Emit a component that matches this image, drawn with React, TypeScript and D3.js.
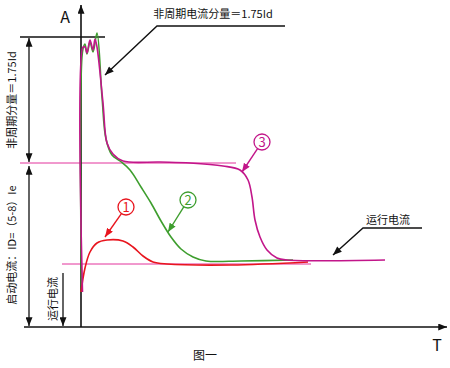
import * as d3 from 'd3';

// time axis and current axis are in arbitrary units
const levelRun = 63; // 运行电流
const levelStart = 164; // 启动电流
const levelPeak = 290; // 非周期分量 top

const curve1T = [0, 4, 9, 16, 26, 42, 52, 62, 72, 86, 150, 227];
const curve1I = [35, 59, 75, 84, 87, 86, 80, 71, 65, 63, 62, 65];

const curve2T = [0.5, 1.5, 4, 6, 9, 12, 16, 21, 25, 31, 39, 49, 60, 70, 80, 90, 100, 112, 125, 160, 212];
const curve2I = [35, 275, 283, 273, 285, 275, 294, 230, 188, 172, 166, 157, 140, 124, 106, 90, 78, 70, 66, 66, 67];

const curve3T = [1.5, 2, 4, 6, 9, 12, 14, 16, 22, 26, 32, 42, 79, 109, 142, 159, 167, 171, 174, 179, 186, 196, 206, 304];
const curve3I = [35, 280, 280, 274, 287, 277, 288, 280, 224, 184, 173, 166, 165, 164, 161, 157, 147, 130, 107, 90, 77, 69, 67, 67];

const labels = ['1', '2', '3'];
const colors = ['#e8151e', '#3e9e2e', '#c2168a'];

const font = '"Noto Sans CJK SC", "Noto Sans", sans-serif';

const x = d3.scaleLinear().domain([0, 366]).range([81, 447]);
const y = d3.scaleLinear().domain([0, 322]).range([327, 5]);

const line = d3
  .line<[number, number]>()
  .curve(d3.curveCatmullRom.alpha(0.5))
  .x((d) => x(d[0]))
  .y((d) => y(d[1]));

const zip = (t: number[], v: number[]) => t.map((d, i) => [d, v[i]] as [number, number]);

export default function App() {
  const curves = [zip(curve1T, curve1I), zip(curve2T, curve2I), zip(curve3T, curve3I)];
  // circle label centres and arrow tips (data units)
  const callouts = [
    { c: [45, 120], tip: [24, 90] },
    { c: [107, 127], tip: [87, 95] },
    { c: [181, 185], tip: [161, 155] },
  ];
  const yPeak = y(levelPeak);
  const yStart = y(levelStart);
  const yRun = y(levelRun);
  const y0 = y(0);

  return (
    <svg width={450} height={368} style={{ position: 'absolute', left: 0, top: 0, background: '#fff' }}>
      <defs>
        <marker id="ah" viewBox="0 0 10 8" refX="10" refY="4" markerWidth="10" markerHeight="7" markerUnits="userSpaceOnUse" orient="auto-start-reverse">
          <path d="M0,0 L10,4 L0,8 z" fill="#111" />
        </marker>
        {colors.map((c, i) => (
          <marker key={i} id={`ah${i}`} viewBox="0 0 10 8" refX="10" refY="4" markerWidth="9" markerHeight="7" markerUnits="userSpaceOnUse" orient="auto">
            <path d="M0,0 L10,4 L0,8 z" fill={c} />
          </marker>
        ))}
      </defs>

      {/* reference levels */}
      <line x1={x(-61)} x2={x(155)} y1={yStart} y2={yStart} stroke="#e2339c" strokeWidth={1} />
      <line x1={x(-19)} x2={x(230)} y1={yRun} y2={yRun} stroke="#e2339c" strokeWidth={1} />

      {/* axes */}
      <line x1={x(-57)} x2={x(366)} y1={y0} y2={y0} stroke="#111" strokeWidth={1.6} markerEnd="url(#ah)" />
      <line x1={x(0)} x2={x(0)} y1={y0} y2={y(322)} stroke="#111" strokeWidth={1.6} markerEnd="url(#ah)" />
      <line x1={x(-61)} x2={x(24)} y1={yPeak} y2={yPeak} stroke="#111" strokeWidth={1.6} />
      <text x={65} y={23} fontFamily={font} fontSize={16} textAnchor="middle" fill="#111">A</text>
      <text x={437} y={351} fontFamily={font} fontSize={16} textAnchor="middle" fill="#111">T</text>

      {/* dimension arrows */}
      <line x1={x(-52)} x2={x(-52)} y1={yPeak + 1} y2={yStart - 1} stroke="#111" strokeWidth={1.3} markerStart="url(#ah)" markerEnd="url(#ah)" />
      <line x1={x(-52)} x2={x(-52)} y1={yStart + 3} y2={y0 - 1} stroke="#111" strokeWidth={1.3} markerStart="url(#ah)" markerEnd="url(#ah)" />
      <line x1={x(-18)} x2={x(-18)} y1={y(54)} y2={y0 - 1} stroke="#111" strokeWidth={1.3} markerEnd="url(#ah)" />
      <text transform={`translate(16,${(yPeak + yStart) / 2}) rotate(-90)`} fontFamily={font} fontSize={11} textAnchor="middle" fill="#111">非周期分量＝1.75Id</text>
      <text transform={`translate(16,245) rotate(-90)`} fontFamily={font} fontSize={11} textAnchor="middle" fill="#111">启动电流：ID=（5-8）Ie</text>
      <text transform={`translate(57,299) rotate(-90)`} fontFamily={font} fontSize={11} textAnchor="middle" fill="#111">运行电流</text>

      {/* curves: green, red, then magenta on top */}
      {[1, 0, 2].map((k) => (
        <path key={k} d={line(curves[k]) ?? ''} fill="none" stroke={colors[k]} strokeWidth={1.6} strokeLinejoin="round" />
      ))}

      {/* top note */}
      <text x={213} y={18} fontFamily={font} fontSize={11} textAnchor="middle" fill="#111">非周期电流分量＝1.75Id</text>
      <polyline points={`285,26 157,26 ${x(24)},${y(252)}`} fill="none" stroke="#111" strokeWidth={1.4} markerEnd="url(#ah)" />

      {/* running current note */}
      <text x={366} y={224} fontFamily={font} fontSize={11} fill="#111">运行电流</text>
      <polyline points={`422,228 363,228 ${x(252)},${y(72)}`} fill="none" stroke="#111" strokeWidth={1.4} markerEnd="url(#ah)" />

      {/* circled labels */}
      {callouts.map((o, i) => {
        const cx = x(o.c[0]);
        const cy = y(o.c[1]);
        const tx = x(o.tip[0]);
        const ty = y(o.tip[1]);
        const a = Math.atan2(ty - cy, tx - cx);
        return (
          <g key={i}>
            <line x1={cx + Math.cos(a) * 8} y1={cy + Math.sin(a) * 8} x2={tx} y2={ty} stroke={colors[i]} strokeWidth={1.4} markerEnd={`url(#ah${i})`} />
            <circle cx={cx} cy={cy} r={8} fill="#fff" stroke={colors[i]} strokeWidth={1.3} />
            <text x={cx} y={cy + 4.5} fontFamily={font} fontSize={13} textAnchor="middle" fill={colors[i]}>{labels[i]}</text>
          </g>
        );
      })}

      <text x={205} y={360} fontFamily={font} fontSize={12} textAnchor="middle" fill="#111">图一</text>
    </svg>
  );
}
